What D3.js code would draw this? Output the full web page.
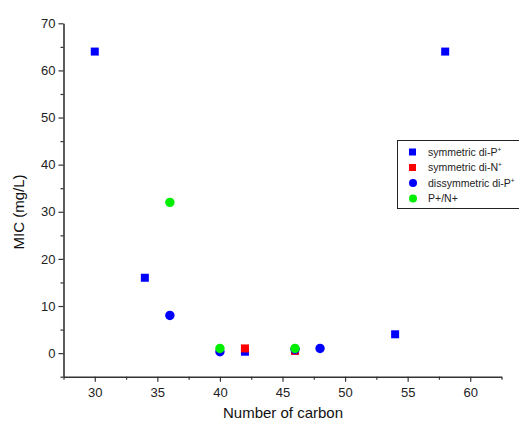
<!DOCTYPE html>
<html>
<head>
<meta charset="utf-8">
<script src="https://cdn.jsdelivr.net/npm/d3@7"></script>
<style>
  body { margin: 0; background: #fff; }
  text { font-family: "Liberation Sans", Arial, sans-serif; }
</style>
</head>
<body>
<div id="chart"></div>
<script>
const width = 519,
      height = 432

// series data: [number of carbon, MIC]
const symP = [[30, 64], [34, 16], [42, 0.3], [46, 0.5], [54, 4], [58, 64]]
const symN = [[42, 1], [46, 0.5]]
const dissP = [[36, 8], [40, 0.3], [46, 0.8], [48, 1]]
const pn = [[36, 32], [40, 1], [46, 1]]

const seriesNames = ["symmetric di-P", "symmetric di-N", "dissymmetric di-P", "P+/N+"]
const seriesSup = ["+", "+", "+", ""]
const seriesColors = ["#0000ff", "#ff0000", "#0000ff", "#00ee00"]
const seriesShapes = ["square", "square", "circle", "circle"]
const seriesData = [symP, symN, dissP, pn]

const xTicks = [30, 35, 40, 45, 50, 55, 60]
const yTicks = [0, 10, 20, 30, 40, 50, 60, 70]

let svg = d3.select("#chart").append("svg")
    .attr("width", width)
    .attr("height", height)

let x = d3.scaleLinear().domain([27.5, 62.5]).range([63.5, 501.5])
let y = d3.scaleLinear().domain([-5, 70]).range([376.7, 23.3])

const axisColor = "#333"

// bottom axis
svg.append("g")
    .attr("transform", "translate(0," + y(-5) + ")")
    .call(d3.axisBottom(x).tickValues(xTicks).tickSize(5).tickSizeOuter(0).tickPadding(6))
svg.append("g")
    .attr("transform", "translate(0," + y(-5) + ")")
    .call(d3.axisBottom(x).tickValues(d3.range(27.5, 63, 5)).tickSize(3).tickFormat("").tickSizeOuter(0))
    .select(".domain").remove()

// left axis
svg.append("g")
    .attr("transform", "translate(" + x(27.5) + ",0)")
    .call(d3.axisLeft(y).tickValues(yTicks).tickSize(5).tickSizeOuter(0).tickPadding(3))
svg.append("g")
    .attr("transform", "translate(" + x(27.5) + ",0)")
    .call(d3.axisLeft(y).tickValues(d3.range(-5, 70, 10)).tickSize(3).tickFormat("").tickSizeOuter(0))
    .select(".domain").remove()

svg.selectAll(".domain").attr("stroke", axisColor).attr("stroke-width", 1.6)
svg.selectAll(".tick line").attr("stroke", axisColor).attr("stroke-width", 1.2)
svg.selectAll(".tick text")
    .attr("fill", "#222")
    .style("font-size", "13px")
    .style("font-family", "'Liberation Sans', Arial, sans-serif")

// axis titles
svg.append("text")
    .attr("x", 283)
    .attr("y", 418)
    .attr("text-anchor", "middle")
    .attr("fill", "#111")
    .style("font-size", "15px")
    .text("Number of carbon")

svg.append("text")
    .attr("transform", "translate(24,212) rotate(-90)")
    .attr("text-anchor", "middle")
    .attr("fill", "#111")
    .style("font-size", "15px")
    .text("MIC (mg/L)")

// markers
function drawMarker(g, shape, color, cx, cy) {
    if (shape == "square") {
        g.append("rect")
            .attr("x", cx - 4)
            .attr("y", cy - 4)
            .attr("width", 8)
            .attr("height", 8)
            .attr("fill", color)
    } else {
        g.append("circle")
            .attr("cx", cx)
            .attr("cy", cy)
            .attr("r", 4.7)
            .attr("fill", color)
    }
}

let marks = svg.append("g").attr("name", "marks")
seriesData.forEach((data, i) => {
    data.forEach(d => {
        drawMarker(marks, seriesShapes[i], seriesColors[i], x(d[0]), y(d[1]))
    })
})

// legend
let legend = svg.append("g").attr("transform", "translate(397,140)")
legend.append("rect")
    .attr("x", 0.5)
    .attr("y", 0.5)
    .attr("width", 130)
    .attr("height", 68)
    .attr("fill", "#fff")
    .attr("stroke", "#222")
    .attr("stroke-width", 1)

seriesNames.forEach((name, i) => {
    let ry = 12 + i * 15.5
    let sq = seriesShapes[i] == "square"
    let mg = legend.append("g")
    if (sq) {
        mg.append("rect")
            .attr("x", 12).attr("y", ry - 3.5)
            .attr("width", 7).attr("height", 7)
            .attr("fill", seriesColors[i])
    } else {
        mg.append("circle")
            .attr("cx", 16).attr("cy", ry)
            .attr("r", 4)
            .attr("fill", seriesColors[i])
    }
    let t = legend.append("text")
        .attr("x", 31)
        .attr("y", ry + 3.8)
        .attr("fill", "#222")
        .style("font-size", "10.5px")
        .text(name)
    if (seriesSup[i])
        t.append("tspan")
            .attr("dy", -4)
            .style("font-size", "6.5px")
            .text(seriesSup[i])
})
</script>
</body>
</html>
